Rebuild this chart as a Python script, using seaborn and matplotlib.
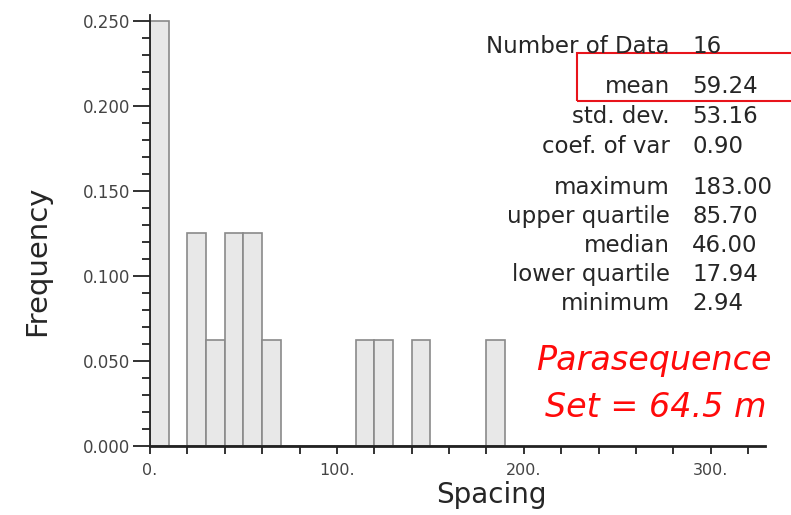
import seaborn as sns
import matplotlib.pyplot as plt
from matplotlib.patches import Rectangle
from matplotlib.ticker import MultipleLocator, FuncFormatter

# -----------------------------
# 1. Data
# -----------------------------
bin_lefts = [0, 20, 30, 40, 50, 60, 110, 120, 140, 180]
frequency = [0.25, 0.125, 0.0625, 0.125, 0.125, 0.0625, 0.0625, 0.0625, 0.0625, 0.0625]
bin_width = 10

stat_names = ["Number of Data", "mean", "std. dev.", "coef. of var",
              "maximum", "upper quartile", "median", "lower quartile", "minimum"]
stat_values = ["16", "59.24", "53.16", "0.90",
               "183.00", "85.70", "46.00", "17.94", "2.94"]

bin_centers = [b + bin_width / 2 for b in bin_lefts]

# -----------------------------
# 2. Theme
# -----------------------------
sns.set_style("ticks")
plt.rcParams['font.family'] = ['DejaVu Sans']

W, H = 791, 515
fig = plt.figure(figsize=(W / 100, H / 100), dpi=100)
ax = fig.add_axes([150 / W, 1 - 446 / H, 615 / W, 431 / H])

# -----------------------------
# 3. Histogram
# -----------------------------
sns.histplot(
    x=bin_centers,
    weights=frequency,
    binwidth=bin_width,
    binrange=(0, 190),
    stat="count",
    color="#e8e8e8",
    edgecolor="#8a8a8a",
    linewidth=1.2,
    alpha=1,
    ax=ax,
)

ax.set_xlim(0, 329)
ax.set_ylim(0, 0.2535)
ax.xaxis.set_major_locator(MultipleLocator(100))
ax.xaxis.set_minor_locator(MultipleLocator(20))
ax.yaxis.set_major_locator(MultipleLocator(0.05))
ax.yaxis.set_minor_locator(MultipleLocator(0.01))
ax.xaxis.set_major_formatter(FuncFormatter(lambda v, p: f"{int(round(v))}."))
ax.yaxis.set_major_formatter(FuncFormatter(lambda v, p: f"{v:.3f}"))

for s in ["top", "right"]:
    ax.spines[s].set_visible(False)
ax.spines["left"].set_linewidth(1.3)
ax.spines["left"].set_color("#222222")
ax.spines["bottom"].set_linewidth(2)
ax.spines["bottom"].set_color("#222222")

ax.tick_params(axis="y", which="major", length=12, width=1.3, pad=2,
               labelsize=12, labelcolor="#444444", color="#222222")
ax.tick_params(axis="y", which="minor", length=6, width=1.3, color="#222222")
ax.tick_params(axis="x", which="both", length=6, width=1.3, pad=6,
               labelsize=11.5, labelcolor="#444444", color="#222222")

ax.set_xlabel("")
ax.set_ylabel("")
fig.text(37 / W, 1 - 261 / H, "Frequency", rotation=90, fontsize=21,
         ha="center", va="center")
fig.text(491 / W, 1 - 503 / H, "Spacing", fontsize=20,
         ha="center", va="baseline")

# -----------------------------
# 4. Statistics block
# -----------------------------
row_base = [53, 93, 123, 153, 194, 223, 252, 281, 310]
for name, val, y in zip(stat_names, stat_values, row_base):
    fig.text(670 / W, 1 - y / H, name, fontsize=16.5, ha="right", va="baseline")
    fig.text(692 / W, 1 - y / H, val, fontsize=16.5, ha="left", va="baseline")

fig.patches.append(Rectangle((577 / W, 1 - 101 / H), 230 / W, 48 / H,
                             transform=fig.transFigure, fill=False,
                             edgecolor="#e8141b", linewidth=1.5))

fig.text(654 / W, 1 - 370 / H, "Parasequence", fontsize=24, style="italic",
         color="#ff0a0a", ha="center", va="baseline")
fig.text(656 / W, 1 - 417 / H, "Set = 64.5 m", fontsize=24, style="italic",
         color="#ff0a0a", ha="center", va="baseline")

fig.savefig("out.png", dpi=100, facecolor="white")
